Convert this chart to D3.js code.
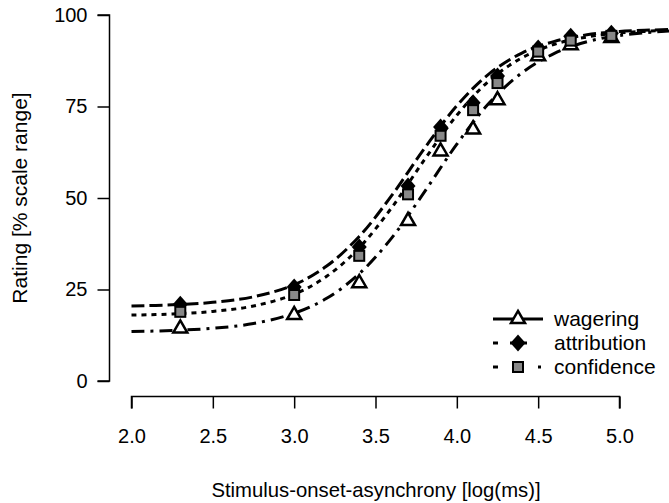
<!DOCTYPE html>
<html><head><meta charset="utf-8">
<script src="https://cdn.jsdelivr.net/npm/d3@7"></script>
<style>body{margin:0;background:#fff}svg{display:block}text{font-family:"Liberation Sans",Arial,sans-serif;fill:#000}</style>
</head><body>
<svg id="c" width="669" height="503"></svg>
<script>
// Observed points
const soa = [2.3, 3.0, 3.4, 3.7, 3.9, 4.1, 4.25, 4.5, 4.7, 4.95];
const wagering = [14.6, 18.3, 27.0, 44.0, 63.0, 69.0, 77.0, 89.0, 92.0, 94.0];
const attribution = [21.0, 25.7, 36.6, 53.3, 69.4, 76.0, 83.3, 91.0, 94.2, 95.0];
const confidence = [18.9, 23.5, 34.2, 51.0, 67.0, 74.0, 81.4, 90.0, 93.0, 94.3];
// Fitted curves
const curveX = [2.0, 2.25, 2.5, 2.75, 3.0, 3.2, 3.4, 3.6, 3.8, 4.0, 4.2, 4.4, 4.6, 4.8, 5.0, 5.35];
const wageringFit = [13.5, 13.8, 14.4, 15.7, 18.5, 22.6, 29.3, 39.1, 51.6, 64.7, 76.0, 84.2, 89.5, 92.7, 94.4, 95.8];
const attributionFit = [20.5, 20.8, 21.5, 23.0, 26.3, 31.4, 39.5, 50.7, 63.5, 75.2, 84.0, 89.6, 92.8, 94.6, 95.5, 96.1];
const confidenceFit = [18.0, 18.3, 19.0, 20.5, 23.7, 28.6, 36.4, 47.4, 60.4, 72.6, 82.1, 88.3, 92.0, 94.0, 95.1, 95.9];
const xTicks = [2.0, 2.5, 3.0, 3.5, 4.0, 4.5, 5.0];
const yTicks = [0, 25, 50, 75, 100];
const legendLabels = ["wagering", "attribution", "confidence"];

const svg = d3.select("#c");
const x = d3.scaleLinear().domain([2.0, 5.0]).range([131.5, 619.5]);
const y = d3.scaleLinear().domain([0, 100]).range([381, 15]);

// axes
const yAxis = svg.append("g").attr("transform", "translate(109.5,0)")
  .call(d3.axisLeft(y).tickValues(yTicks).tickSize(12).tickPadding(10).tickFormat(d3.format("d")));
const xAxis = svg.append("g").attr("transform", "translate(0,396.5)")
  .call(d3.axisBottom(x).tickValues(xTicks).tickSize(12).tickPadding(20).tickFormat(d3.format(".1f")));
[yAxis, xAxis].forEach(a => {
  a.select(".domain").attr("stroke", "#000").attr("stroke-width", 1.5);
  a.selectAll(".tick line").attr("stroke", "#000").attr("stroke-width", 1.5);
  a.selectAll(".tick text").attr("font-size", 20).attr("font-family", "Liberation Sans, Arial, sans-serif").attr("fill", "#000");
});
yAxis.select(".domain").attr("d", `M-12,${y(100)}H0V${y(0)}H-12`);
xAxis.select(".domain").attr("d", `M${x(2)},12V0H${x(5)}V12`);

svg.append("text").attr("x", 376).attr("y", 497).attr("text-anchor", "middle").attr("font-size", 20.3)
  .text("Stimulus-onset-asynchrony [log(ms)]");
svg.append("text").attr("transform", "translate(27,198) rotate(-90)").attr("text-anchor", "middle").attr("font-size", 21)
  .text("Rating [% scale range]");

const series = [
  {name: "wagering", pts: wagering, fit: wageringFit, dash: "13,6,3,6"},
  {name: "attribution", pts: attribution, fit: attributionFit, dash: "13,5"},
  {name: "confidence", pts: confidence, fit: confidenceFit, dash: "5,5"}
];

const line = d3.line().x(d => x(d[0])).y(d => y(d[1])).curve(d3.curveCatmullRom);
series.forEach(s => {
  svg.append("path").attr("d", line(curveX.map((v, i) => [v, s.fit[i]])))
    .attr("fill", "none").attr("stroke", "#000").attr("stroke-width", 3).attr("stroke-dasharray", s.dash);
});

function marker(g, name, cx, cy) {
  if (name === "wagering") {
    g.append("path").attr("d", d3.symbol(d3.symbolTriangle, 85)())
      .attr("transform", `translate(${cx},${cy + 1})`).attr("fill", "#fff").attr("stroke", "#000").attr("stroke-width", 2.5);
  } else if (name === "attribution") {
    g.append("path").attr("d", "M0,-8.5L7.5,0L0,8.5L-7.5,0Z")
      .attr("transform", `translate(${cx},${cy})`).attr("fill", "#000");
  } else {
    g.append("rect").attr("x", cx - 5).attr("y", cy - 5).attr("width", 10).attr("height", 10)
      .attr("fill", "#888").attr("stroke", "#000").attr("stroke-width", 2);
  }
}
series.forEach(s => {
  const g = svg.append("g");
  soa.forEach((v, i) => marker(g, s.name, x(v), y(s.pts[i])));
});

// legend
const legY = [319, 343, 367];
series.forEach((s, i) => {
  const g = svg.append("g");
  const ly = legY[i];
  if (s.name === "wagering") {
    g.append("line").attr("x1", 493).attr("x2", 543).attr("y1", ly).attr("y2", ly).attr("stroke", "#000").attr("stroke-width", 3);
  } else if (s.name === "attribution") {
    g.append("line").attr("x1", 493).attr("x2", 498).attr("y1", ly).attr("y2", ly).attr("stroke", "#000").attr("stroke-width", 3);
    g.append("line").attr("x1", 510).attr("x2", 527).attr("y1", ly).attr("y2", ly).attr("stroke", "#000").attr("stroke-width", 3);
  } else {
    g.append("line").attr("x1", 493).attr("x2", 498).attr("y1", ly).attr("y2", ly).attr("stroke", "#000").attr("stroke-width", 3);
    g.append("line").attr("x1", 538).attr("x2", 541).attr("y1", ly).attr("y2", ly).attr("stroke", "#000").attr("stroke-width", 3);
  }
  marker(g, s.name, 518, ly - (s.name === "wagering" ? 1 : 0));
  g.append("text").attr("x", 554).attr("y", ly + 7).attr("font-size", 21).text(legendLabels[i]);
});
</script>
</body></html>
